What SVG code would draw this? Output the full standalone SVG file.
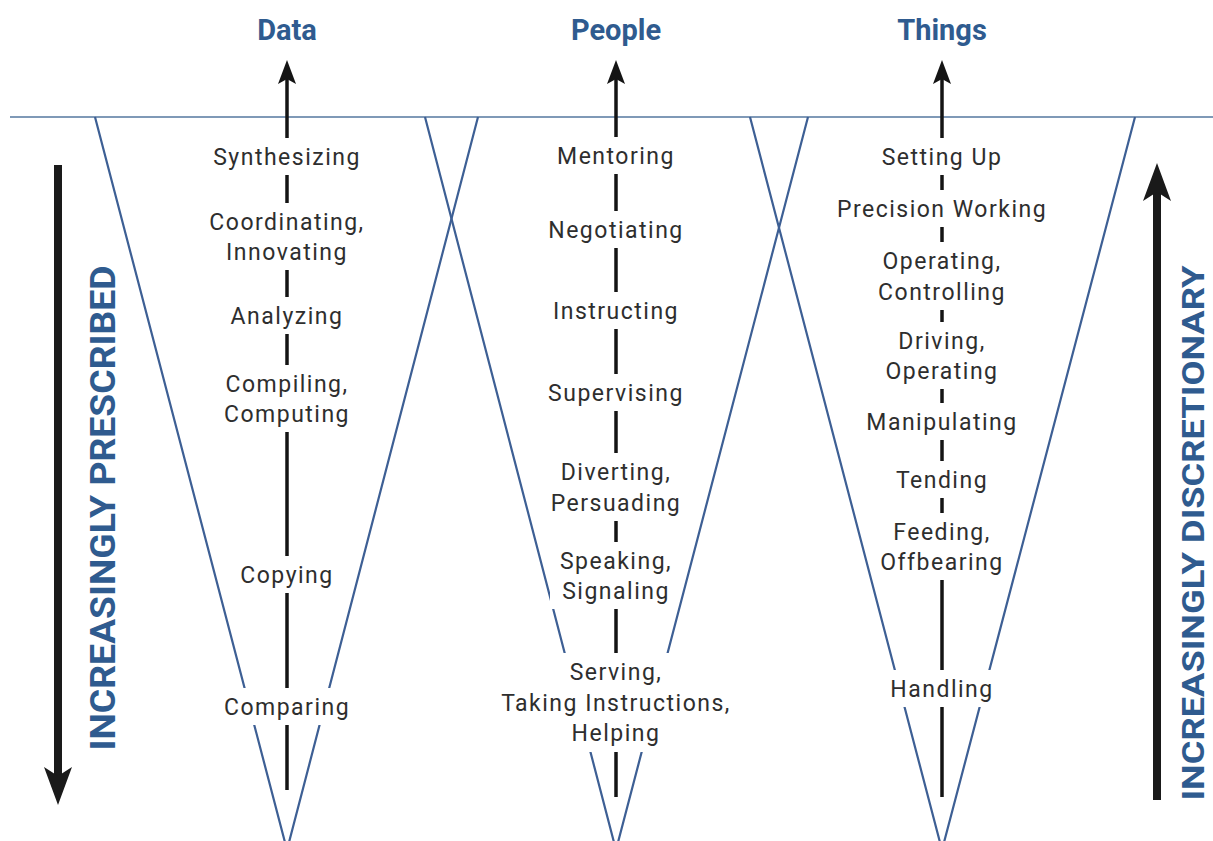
<svg xmlns="http://www.w3.org/2000/svg" width="1213" height="841" viewBox="0 0 1213 841">
<defs>
<style>
.bg{fill:#ffffff}
.vline{stroke:#3d5f94;stroke-width:2.2;fill:none}
.hline{stroke:#55779f;stroke-width:1.6;fill:none}
.axis{stroke:#141414;stroke-width:3.5;fill:none}
.big{stroke:#1a1a1a;stroke-width:8;fill:none}
.lbl{font-family:Roboto,"DejaVu Sans",sans-serif;font-size:23px;fill:#2e2e2e;text-anchor:middle;letter-spacing:1.5px}
.hdr{font-family:Roboto,"DejaVu Sans",sans-serif;font-size:29px;font-weight:bold;fill:#2f5b8f;text-anchor:middle}
.side{font-family:Roboto,"DejaVu Sans",sans-serif;font-size:35px;font-weight:bold;fill:#2f5b8f;text-anchor:middle}
.side2{font-family:Roboto,"DejaVu Sans",sans-serif;font-size:32px;font-weight:bold;fill:#2f5b8f;text-anchor:middle}
</style>
<marker id="headS" markerUnits="userSpaceOnUse" viewBox="0 0 24 18" refX="12" refY="9" markerWidth="24" markerHeight="18" orient="auto">
<path d="M0,0 L24,9 L0,18 L5,9 Z" fill="#141414"/>
</marker>
<marker id="headB" markerUnits="userSpaceOnUse" viewBox="0 0 38 28" refX="18" refY="14" markerWidth="38" markerHeight="28" orient="auto">
<path d="M0,0 L38,14 L0,28 L9,14 Z" fill="#1a1a1a"/>
</marker>
</defs>
<rect x="0" y="0" width="1213" height="841" fill="#ffffff"/>

<g id="connectors">
<line class="hline" x1="10" y1="117" x2="1213" y2="117"/>
<polyline class="vline" points="95,117 287,850 478,117"/>
<polyline class="vline" points="425,117 616,850 808,117"/>
<polyline class="vline" points="750,117 942,850 1135,117"/>
<line class="axis" x1="287" y1="790" x2="287" y2="72" marker-end="url(#headS)"/>
<line class="axis" x1="616" y1="797" x2="616" y2="72" marker-end="url(#headS)"/>
<line class="axis" x1="942" y1="797" x2="942" y2="72" marker-end="url(#headS)"/>
<line class="big" x1="58" y1="165" x2="58" y2="785" marker-end="url(#headB)"/>
<line class="big" x1="1157" y1="800" x2="1157" y2="183" marker-end="url(#headB)"/>
</g>

<g id="headers">
<text class="hdr" x="287" y="40">Data</text>
<text class="hdr" x="616" y="40">People</text>
<text class="hdr" x="942" y="40">Things</text>
</g>

<g id="side-labels">
<text class="side" transform="translate(115,508) rotate(-90)" textLength="485" lengthAdjust="spacingAndGlyphs">INCREASINGLY PRESCRIBED</text>
<text class="side2" transform="translate(1204,533) rotate(-90)" textLength="535" lengthAdjust="spacingAndGlyphs">INCREASINGLY DISCRETIONARY</text>
</g>

<!-- Data column -->
<g id="d-synthesizing"><rect class="bg" x="207" y="138" width="159" height="37"/><text class="lbl" x="287" y="165">Synthesizing</text></g>
<g id="d-coordinating"><rect class="bg" x="202" y="203" width="169" height="67"/><text class="lbl" x="287" y="230">Coordinating,</text><text class="lbl" x="287" y="260">Innovating</text></g>
<g id="d-analyzing"><rect class="bg" x="226" y="297" width="123" height="37"/><text class="lbl" x="287" y="324">Analyzing</text></g>
<g id="d-compiling"><rect class="bg" x="219" y="365" width="137" height="67"/><text class="lbl" x="287" y="392">Compiling,</text><text class="lbl" x="287" y="422">Computing</text></g>
<g id="d-copying"><rect class="bg" x="235" y="556" width="104" height="37"/><text class="lbl" x="287" y="583">Copying</text></g>
<g id="d-comparing"><rect class="bg" x="217" y="688" width="141" height="37"/><text class="lbl" x="287" y="715">Comparing</text></g>

<!-- People column -->
<g id="p-mentoring"><rect class="bg" x="550" y="137" width="131" height="37"/><text class="lbl" x="616" y="164">Mentoring</text></g>
<g id="p-negotiating"><rect class="bg" x="543" y="211" width="146" height="37"/><text class="lbl" x="616" y="238">Negotiating</text></g>
<g id="p-instructing"><rect class="bg" x="545" y="292" width="141" height="37"/><text class="lbl" x="616" y="319">Instructing</text></g>
<g id="p-supervising"><rect class="bg" x="540" y="374" width="151" height="37"/><text class="lbl" x="616" y="401">Supervising</text></g>
<g id="p-diverting"><rect class="bg" x="543" y="453" width="145" height="68"/><text class="lbl" x="616" y="480">Diverting,</text><text class="lbl" x="616" y="511">Persuading</text></g>
<g id="p-speaking"><rect class="bg" x="550" y="542" width="127" height="67"/><text class="lbl" x="616" y="569">Speaking,</text><text class="lbl" x="616" y="599">Signaling</text></g>
<g id="p-serving"><rect class="bg" x="494" y="653" width="244" height="99"/><text class="lbl" x="616" y="680">Serving,</text><text class="lbl" x="616" y="711">Taking Instructions,</text><text class="lbl" x="616" y="741">Helping</text></g>

<!-- Things column -->
<g id="t-setting"><rect class="bg" x="876" y="138" width="132" height="37"/><text class="lbl" x="942" y="165">Setting Up</text></g>
<g id="t-precision"><rect class="bg" x="830" y="190" width="224" height="37"/><text class="lbl" x="942" y="217">Precision Working</text></g>
<g id="t-operating"><rect class="bg" x="871" y="242" width="141" height="68"/><text class="lbl" x="942" y="269">Operating,</text><text class="lbl" x="942" y="300">Controlling</text></g>
<g id="t-driving"><rect class="bg" x="878" y="322" width="126" height="67"/><text class="lbl" x="942" y="349">Driving,</text><text class="lbl" x="942" y="379">Operating</text></g>
<g id="t-manipulating"><rect class="bg" x="860" y="403" width="163" height="37"/><text class="lbl" x="942" y="430">Manipulating</text></g>
<g id="t-tending"><rect class="bg" x="891" y="461" width="101" height="37"/><text class="lbl" x="942" y="488">Tending</text></g>
<g id="t-feeding"><rect class="bg" x="878" y="513" width="128" height="67"/><text class="lbl" x="942" y="540">Feeding,</text><text class="lbl" x="942" y="570">Offbearing</text></g>
<g id="t-handling"><rect class="bg" x="886" y="670" width="113" height="37"/><text class="lbl" x="942" y="697">Handling</text></g>
</svg>
